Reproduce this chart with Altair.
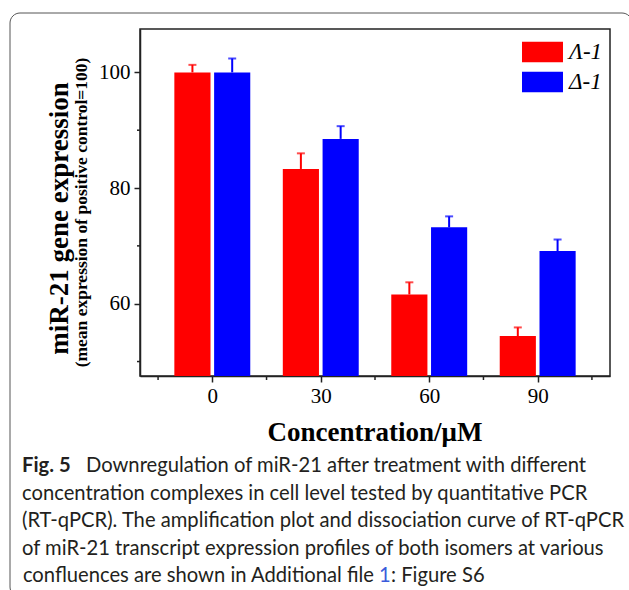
import altair as alt
import pandas as pd

# ---------------- data ----------------
concentrations = [0, 30, 60, 90]
groups = ["Λ-1", "Δ-1"]
lambda_values = [100.0, 83.3, 61.6, 54.4]
lambda_sd = [1.3, 2.7, 2.1, 1.5]
delta_values = [100.0, 88.5, 73.2, 69.1]
delta_sd = [2.4, 2.2, 1.9, 2.0]
colors = ["#FF0000", "#0000FF"]

x_ticks = [0, 30, 60, 90]
x_minor = [-15, 15, 45, 75, 105]
y_ticks = [60, 80, 100]
y_minor = [50, 70, 90]

x_title = "Concentration/μM"
y_title = "miR-21 gene expression"
y_subtitle = "(mean expression of positive control=100)"

caption_lines = [
    "concentration complexes in cell level tested by quantitative PCR",
    "(RT-qPCR). The amplification plot and dissociation curve of RT-qPCR",
    "of miR-21 transcript expression profiles of both isomers at various",
]
caption_first_bold = "Fig. 5"
caption_first_rest = "Downregulation of miR-21 after treatment with different"
caption_last_a = "confluences are shown in Additional file"
caption_last_link = "1"
caption_last_b = ": Figure S6"

rows = []
for g, vals, sds in [(groups[0], lambda_values, lambda_sd), (groups[1], delta_values, delta_sd)]:
    for c, v, s in zip(concentrations, vals, sds):
        rows.append({"conc": c, "group": g, "value": v, "top": v + s})
df = pd.DataFrame(rows)

W, H = 470, 347
YMIN, YMAX = 47.5, 107.5
SERIF = "Liberation Serif"
SANS = "Lato, Roboto, sans-serif"
CAP_SIZE = 20.2

xscale = alt.Scale(domain=[-20, 110], nice=False, zero=False)
yscale = alt.Scale(domain=[YMIN, YMAX], nice=False, zero=False)
cscale = alt.Scale(domain=groups, range=colors)

base = alt.Chart(df).transform_calculate(
    sign="datum.group == '" + groups[0] + "' ? -1 : 1"
).transform_calculate(
    xc="datum.conc + datum.sign * 5.5",
    xa="datum.conc + datum.sign * 5.5 - 5",
    xb="datum.conc + datum.sign * 5.5 + 5",
)

bars = base.mark_bar().encode(
    x=alt.X("xa:Q", scale=xscale,
            axis=alt.Axis(values=x_ticks, title=None, tickSize=6, tickWidth=1.5,
                          labelFont=SERIF, labelFontSize=21, labelColor="black",
                          labelPadding=3, domainColor="#222", domainWidth=1.5,
                          tickColor="#222", grid=False, labelFlush=False)),
    x2="xb:Q",
    y=alt.Y("value:Q", scale=yscale,
            axis=alt.Axis(values=y_ticks, title=None, tickSize=6, tickWidth=1.5,
                          labelFont=SERIF, labelFontSize=21, labelColor="black",
                          labelPadding=4, domainColor="#222", domainWidth=1.5,
                          tickColor="#222", grid=False, labelFlush=False)),
    y2=alt.datum(YMIN),
    color=alt.Color("group:N", scale=cscale,
                    legend=alt.Legend(title=None, orient="none", legendX=391, legendY=11.5,
                                      symbolType="M-2,-1H2V1H-2Z", symbolSize=420,
                                      symbolStrokeWidth=0, symbolOpacity=1,
                                      labelFont=SERIF, labelFontStyle="italic",
                                      labelFontSize=23, labelColor="black",
                                      labelOffset=15, rowPadding=6, padding=0)),
)

err_line = base.mark_rule(strokeWidth=2).encode(
    x="xc:Q", y="value:Q", y2="top:Q",
    color=alt.Color("group:N", scale=cscale, legend=None),
)
err_cap = base.mark_tick(orient="horizontal", size=8, thickness=2).encode(
    x="xc:Q", y="top:Q",
    color=alt.Color("group:N", scale=cscale, legend=None),
)

ymin_df = pd.DataFrame({"v": y_minor})
xmin_df = pd.DataFrame({"v": x_minor})
y_minor_ticks = alt.Chart(ymin_df).mark_rule(color="#222", strokeWidth=1.5).encode(
    y=alt.Y("v:Q", scale=yscale), x=alt.value(-3), x2=alt.value(0))
x_minor_ticks = alt.Chart(xmin_df).mark_rule(color="#222", strokeWidth=1.5).encode(
    x=alt.X("v:Q", scale=xscale), y=alt.value(H), y2=alt.value(H + 4))


def txt(s, x, y, size, font, weight="normal", angle=0, color="black", align="left", style="normal"):
    kw = dict(font=font, fontSize=size, fontWeight=weight, color=color, align=align,
              baseline="alphabetic", fontStyle=style)
    if angle:
        kw["angle"] = angle
    return alt.Chart(pd.DataFrame({"t": [s]})).mark_text(**kw).encode(
        text="t:N", x=alt.value(x), y=alt.value(y))


titles = [
    txt(x_title, W / 2, 412, 27, SERIF, weight="bold", align="center"),
    txt(y_title, -72, 189.5, 27, SERIF, weight="bold", angle=270, align="center"),
    txt(y_subtitle, -53, 183.5, 17.5, SERIF, weight="bold", angle=270, align="center"),
]

CX = 22 - 140
CCOL = "#231f20"
cap = [
    txt(caption_first_bold, CX, 443, CAP_SIZE, SANS, weight="bold", color=CCOL),
    txt(caption_first_rest, 86 - 140, 443, CAP_SIZE, SANS, color=CCOL),
]
for i, line in enumerate(caption_lines):
    cap.append(txt(line, CX, 470.5 + 27.5 * i, CAP_SIZE, SANS, color=CCOL))
cap += [
    txt(caption_last_a, 374 - 140, 553, CAP_SIZE, SANS, color=CCOL, align="right"),
    txt(caption_last_link, 379 - 140, 553, CAP_SIZE, SANS, color="#3B5BDB"),
    txt(caption_last_b, 391 - 140, 553, CAP_SIZE, SANS, color=CCOL),
]

frame = alt.Chart(pd.DataFrame({"k": [0]})).mark_rect(
    fill=None, filled=False, stroke="#555", strokeWidth=1, cornerRadius=10
).encode(x=alt.value(10 - 140), x2=alt.value(632 - 140),
         y=alt.value(13 - 29), y2=alt.value(597 - 29))

chart = alt.layer(
    frame, bars, err_line, err_cap, y_minor_ticks, x_minor_ticks, *titles, *cap
).properties(
    width=W, height=H,
    padding={"left": 140, "top": 29, "right": 19, "bottom": 214},
    autosize=alt.AutoSizeParams(type="none"),
    background="white",
).configure_view(stroke="#222", strokeWidth=1.5)

chart.save("out.html", embed_options={"renderer": "svg", "actions": False})
